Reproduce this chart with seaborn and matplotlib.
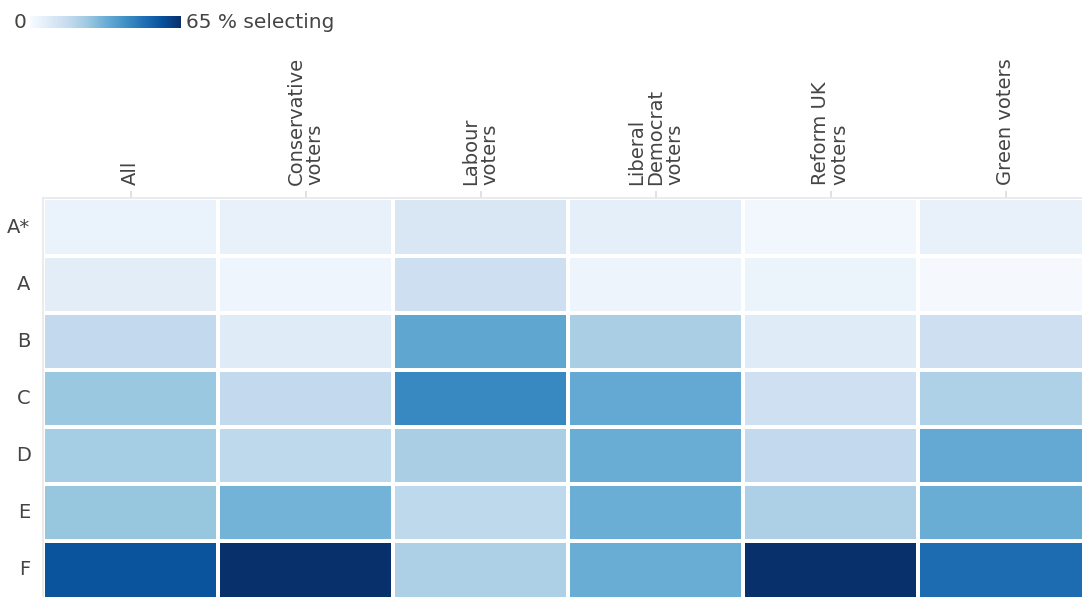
import numpy as np
import pandas as pd
import matplotlib.pyplot as plt
import seaborn as sns

# Grades (rows) and voter groups (columns)
grades = ['A*', 'A', 'B', 'C', 'D', 'E', 'F']
groups = ['All', 'Conservative\nvoters', 'Labour\nvoters', 'Liberal\nDemocrat\nvoters',
          'Reform UK\nvoters', 'Green voters']

# % selecting each grade, per group (estimated from colour shades)
all_voters = [4.5, 7, 17, 25, 23, 25.5, 56]
conservative = [5, 3, 8, 17, 18, 31, 65]
labour = [10, 14, 35, 43, 22, 18, 21.5]
lib_dem = [6, 3.5, 22, 34, 33, 32.5, 33]
reform = [2, 4, 8, 13.5, 17, 21.5, 65]
green = [5, 1, 14, 21, 34, 33, 50]

df = pd.DataFrame({groups[0]: all_voters, groups[1]: conservative, groups[2]: labour,
                   groups[3]: lib_dem, groups[4]: reform, groups[5]: green}, index=grades)

sns.set_theme(style='white')
plt.rcParams['font.family'] = ['DejaVu Sans']

fig = plt.figure(figsize=(10.82, 5.97), dpi=100)
ax = fig.add_axes([43 / 1082, 1 - 598.5 / 597, 1050 / 1082, 400 / 597])
cax = fig.add_axes([30 / 1082, 1 - 28 / 597, 151 / 1082, 12 / 597])

sns.heatmap(df, cmap='Blues', vmin=0, vmax=65, linewidths=1.5, linecolor='white',
            ax=ax, cbar_ax=cax, cbar_kws={'orientation': 'horizontal'})

# column labels on top
ax.xaxis.tick_top()
ax.set_xticklabels(groups, rotation=90, ha='center', va='bottom', multialignment='left',
                   linespacing=1.0)
ax.set_yticklabels(grades, rotation=0)
ax.tick_params(axis='x', length=5, pad=5, color='#dddddd', labelcolor='#444444', labelsize=14)
ax.tick_params(axis='y', length=6, pad=3, color='#dddddd', labelcolor='#444444', labelsize=14)
ax.set_xlabel('')
ax.set_ylabel('')
for s in ax.spines.values():
    s.set_visible(True)
    s.set_color('#e8e8e8')

# colour legend
cax.set_xticks([])
cax.set_yticks([])
for s in cax.spines.values():
    s.set_visible(False)
fig.text(14 / 1082, 1 - 22 / 597, '0', ha='left', va='center', fontsize=14.5, color='#444444')
fig.text(186 / 1082, 1 - 22 / 597, '65 % selecting', ha='left', va='center',
         fontsize=14.5, color='#444444')

plt.savefig('out.png', dpi=100)
